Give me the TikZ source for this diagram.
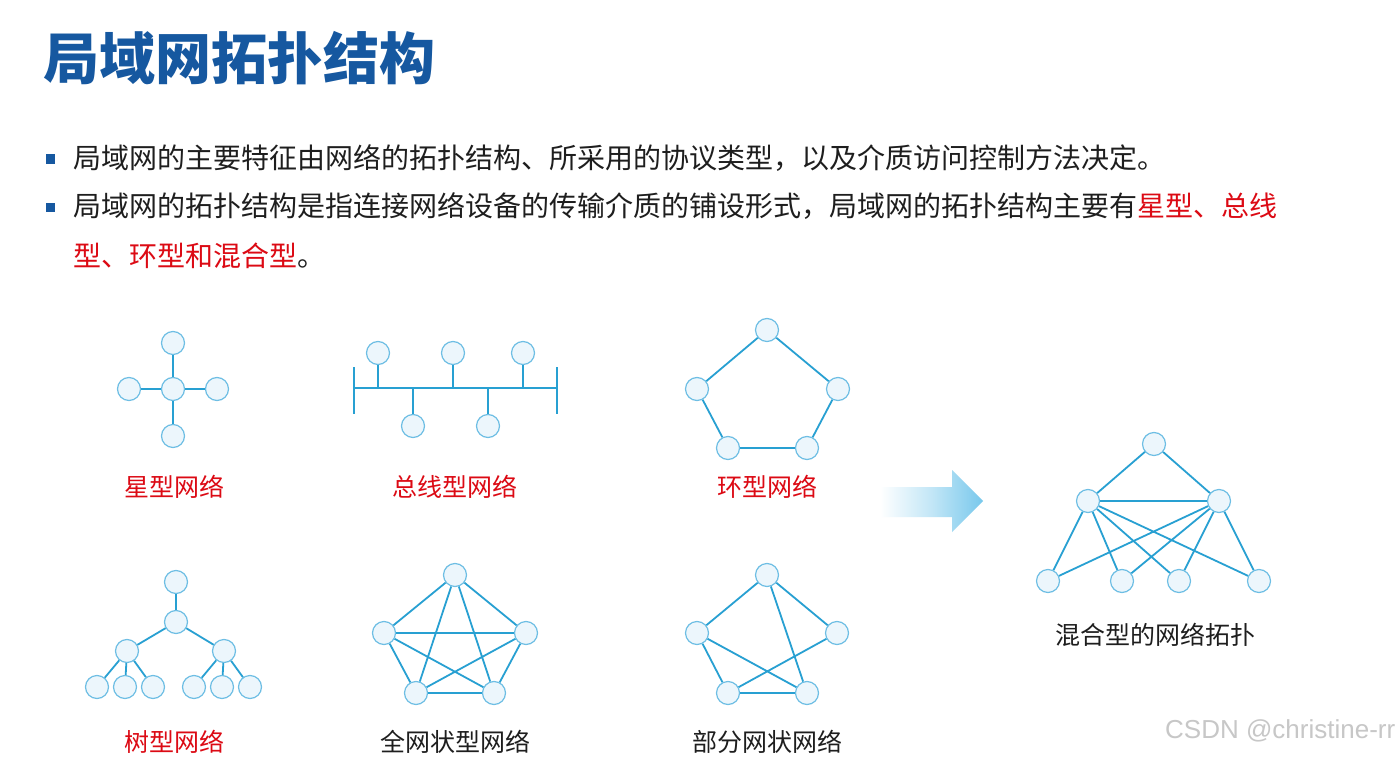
\documentclass[tikz,border=0pt]{standalone}
\usepackage{fontspec}
\newfontfamily\cjk{Noto Sans CJK SC}
\setsansfont{Liberation Sans}
\begin{document}
\begin{tikzpicture}[x=1pt,y=-1pt,
  nd/.style={circle,minimum size=23pt,inner sep=0pt,draw=ndline,fill=ndfill,line width=1.2pt},
  ln/.style={draw=edge,line width=1.8pt},
  body/.style={anchor=west,inner sep=0pt,font=\cjk\fontsize{28}{32}\selectfont,text=txt},
  lbl/.style={inner sep=0pt,font=\cjk\fontsize{25}{28}\selectfont},
  bul/.style={fill=titleblue,minimum size=9pt,inner sep=0pt}]
\definecolor{titleblue}{RGB}{22,88,160}
\definecolor{edge}{RGB}{40,160,210}
\definecolor{ndline}{RGB}{110,190,228}
\definecolor{ndfill}{RGB}{236,246,252}
\definecolor{txt}{RGB}{30,30,30}
\definecolor{red1}{RGB}{220,10,20}
\definecolor{arrowblue}{RGB}{120,200,236}
\useasboundingbox (0,0) rectangle (1400,757);
\fill[white] (0,0) rectangle (1400,757);
% title
\node[anchor=west,inner sep=0pt,font=\cjk\bfseries\fontsize{56}{60}\selectfont,text=titleblue] (title) at (43,58) {局域网拓扑结构};
% bullets
\node[bul] (b1) at (50,159) {};
\node[bul] (b2) at (50,207) {};
\node[body] (l1) at (73,158) {局域网的主要特征由网络的拓扑结构、所采用的协议类型，以及介质访问控制方法决定。};
\node[body] (l2) at (73,206) {局域网的拓扑结构是指连接网络设备的传输介质的铺设形式，局域网的拓扑结构主要有\textcolor{red1}{星型、总线}};
\node[body] (l3) at (73,256) {\textcolor{red1}{型、环型和混合型}。};
% star
\node[nd] (sc) at (173,389) {};
\node[nd] (st) at (173,343) {};
\node[nd] (sb) at (173,436) {};
\node[nd] (sl) at (129,389) {};
\node[nd] (sr) at (217,389) {};
\draw[ln] (sc)--(st) (sc)--(sb) (sc)--(sl) (sc)--(sr);
\node[lbl,text=red1] (cstar) at (174,487) {星型网络};
% bus
\coordinate (bl) at (354,388);
\coordinate (br) at (557,388);
\coordinate (blt) at (354,367); \coordinate (blb) at (354,414);
\coordinate (brt) at (557,367); \coordinate (brb) at (557,414);
\draw[ln] (bl)--(br) (blt)--(blb) (brt)--(brb);
\node[nd] (u1) at (378,353) {};
\node[nd] (u2) at (453,353) {};
\node[nd] (u3) at (523,353) {};
\node[nd] (d1) at (413,426) {};
\node[nd] (d2) at (488,426) {};
\draw[ln] (u1)--(u1|-bl) (u2)--(u2|-bl) (u3)--(u3|-bl) (d1)--(d1|-bl) (d2)--(d2|-bl);
\node[lbl,text=red1] (cbus) at (455,487) {总线型网络};
% ring
\node[nd] (r1) at (767,330) {};
\node[nd] (r2) at (838,389) {};
\node[nd] (r3) at (807,448) {};
\node[nd] (r4) at (728,448) {};
\node[nd] (r5) at (697,389) {};
\draw[ln] (r1)--(r2) (r2)--(r3) (r3)--(r4) (r4)--(r5) (r5)--(r1);
\node[lbl,text=red1] (cring) at (767,487) {环型网络};
% tree
\node[nd] (t0) at (176,582) {};
\node[nd] (t1) at (176,622) {};
\node[nd] (tl) at (127,651) {};
\node[nd] (tr) at (224,651) {};
\node[nd] (l1a) at (97,687) {};
\node[nd] (l1b) at (125,687) {};
\node[nd] (l1c) at (153,687) {};
\node[nd] (l2a) at (194,687) {};
\node[nd] (l2b) at (222,687) {};
\node[nd] (l2c) at (250,687) {};
\draw[ln] (t0)--(t1) (t1)--(tl) (t1)--(tr) (tl)--(l1a) (tl)--(l1b) (tl)--(l1c) (tr)--(l2a) (tr)--(l2b) (tr)--(l2c);
\node[lbl,text=red1] (ctree) at (174,742) {树型网络};
% full mesh
\node[nd] (m1) at (455,575) {};
\node[nd] (m2) at (526,633) {};
\node[nd] (m3) at (494,693) {};
\node[nd] (m4) at (416,693) {};
\node[nd] (m5) at (384,633) {};
\draw[ln] (m1)--(m2) (m2)--(m3) (m3)--(m4) (m4)--(m5) (m5)--(m1)
  (m1)--(m3) (m1)--(m4) (m2)--(m4) (m2)--(m5) (m3)--(m5);
\node[lbl,text=txt] (cmesh) at (455,742) {全网状型网络};
% partial mesh
\node[nd] (p1) at (767,575) {};
\node[nd] (p2) at (837,633) {};
\node[nd] (p3) at (807,693) {};
\node[nd] (p4) at (728,693) {};
\node[nd] (p5) at (697,633) {};
\draw[ln] (p1)--(p2) (p1)--(p5) (p1)--(p3) (p5)--(p4) (p5)--(p3) (p2)--(p4) (p4)--(p3);
\node[lbl,text=txt] (cpart) at (767,742) {部分网状网络};
% arrow
\shade[left color=white,right color=arrowblue,middle color=arrowblue!45]
  (880,487) -- (952,487) -- (952,470) -- (983,501) -- (952,532) -- (952,517) -- (880,517) -- cycle;
% hybrid
\node[nd] (h0) at (1154,444) {};
\node[nd] (hl) at (1088,501) {};
\node[nd] (hr) at (1219,501) {};
\node[nd] (h1) at (1048,581) {};
\node[nd] (h2) at (1122,581) {};
\node[nd] (h3) at (1179,581) {};
\node[nd] (h4) at (1259,581) {};
\draw[ln] (h0)--(hl) (h0)--(hr) (hl)--(hr)
  (hl)--(h1) (hl)--(h2) (hl)--(h3) (hl)--(h4)
  (hr)--(h1) (hr)--(h2) (hr)--(h3) (hr)--(h4);
\node[lbl,text=txt] (chyb) at (1155,635) {混合型的网络拓扑};
% watermark
\node[anchor=west,inner sep=0pt,font=\sffamily\fontsize{26}{28}\selectfont,text=black!22] (wm) at (1165,731) {CSDN @christine-rr};
\end{tikzpicture}
\end{document}
